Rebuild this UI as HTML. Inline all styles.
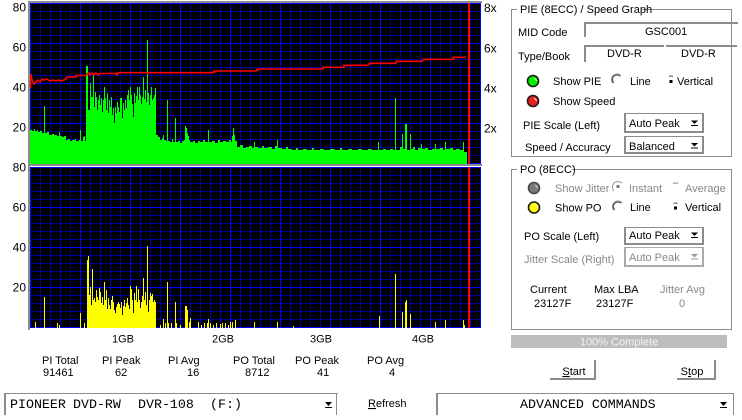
<!DOCTYPE html>
<html><head><meta charset="utf-8">
<style>
html,body{margin:0;padding:0;background:#fff;width:742px;height:420px;overflow:hidden}
svg{display:block}
text{font-family:"Liberation Sans",Arial,sans-serif;font-size:11px;fill:#000}
.g{fill:#888}
.ax{font-size:12px}
.m{font-family:"Liberation Mono",monospace;font-size:13.3px}
</style></head>
<body>
<svg width="742" height="420" viewBox="0 0 742 420" xmlns="http://www.w3.org/2000/svg">
<defs>
<pattern id="mnT" x="30" y="3" width="10" height="8" patternUnits="userSpaceOnUse"><rect width="10" height="8" fill="#000"/><rect width="1" height="8" fill="#000098"/><rect width="10" height="1" fill="#000098"/></pattern>
<pattern id="mjT" x="30" y="3" width="50" height="40" patternUnits="userSpaceOnUse"><rect width="1" height="40" fill="#0000ff"/><rect width="50" height="1" fill="#0000ff"/></pattern>
<pattern id="mnB" x="30" y="167" width="10" height="8" patternUnits="userSpaceOnUse"><rect width="10" height="8" fill="#000"/><rect width="1" height="8" fill="#000098"/><rect width="10" height="1" fill="#000098"/></pattern>
<pattern id="mjB" x="30" y="167" width="50" height="40" patternUnits="userSpaceOnUse"><rect width="1" height="40" fill="#0000ff"/><rect width="50" height="1" fill="#0000ff"/></pattern>
</defs>

<!-- frame -->
<g shape-rendering="crispEdges">
<rect x="28" y="1" width="454" height="2" fill="#8c8c8c"/>
<rect x="28" y="1" width="2" height="329" fill="#8c8c8c"/>
<rect x="28" y="164" width="454" height="2" fill="#8c8c8c"/>
<rect x="30" y="3" width="451" height="161" fill="url(#mnT)"/>
<rect x="30" y="3" width="451" height="161" fill="url(#mjT)"/>
<rect x="30" y="167" width="451" height="161" fill="url(#mnB)"/>
<rect x="30" y="167" width="451" height="161" fill="url(#mjB)"/>

<!-- PIE green -->
<path fill="#00ff00" d="M30 164 V130 H32 V131 H34 V129 H35 V131 H37 V130 H38 V132 H40 V131 H42 V133 H44 V106 H45 V133 H47 V132 H49 V135 H52 V134 H54 V135 H57 V136 H59 V132 H60 V136 H62 V137 H64 V136 H66 V140 H68 V139 H70 V141 H72 V140 H75 V139 H76 V141 H79 V140 H80 V130 H81 V141 H83 V137 H84 V136 H85 V141 H86 V66 H88 V110 H90 V83 H91 V97 H93 V75 H94 V107 H95 V92 H96 V97 H97 V110 H98 V100 H99 V95 H100 V105 H101 V98 H102 V112 H103 V100 H104 V87 H105 V98 H106 V110 H107 V93 H108 V113 H109 V100 H110 V107 H111 V97 H112 V115 H113 V108 H114 V123 H115 V107 H116 V113 H117 V102 H118 V107 H119 V112 H120 V98 H122 V118 H123 V103 H124 V110 H125 V100 H126 V108 H127 V95 H128 V90 H129 V100 H130 V87 H131 V95 H132 V104 H133 V117 H134 V93 H135 V103 H136 V96 H137 V87 H138 V100 H139 V87 H140 V95 H141 V104 H142 V97 H143 V77 H144 V99 H145 V90 H146 V102 H147 V40 H148 V93 H149 V105 H150 V95 H151 V87 H152 V100 H153 V98 H154 V95 H155 V88 H156 V135 H158 V137 H160 V140 H162 V138 H163 V135 H164 V140 H166 V141 H167 V100 H168 V141 H170 V142 H172 V139 H173 V142 H175 V118 H176 V142 H178 V141 H180 V143 H182 V141 H184 V140 H185 V126 H186 V128 H187 V133 H188 V136 H189 V140 H190 V142 H193 V141 H195 V143 H198 V141 H200 V142 H203 V140 H205 V142 H208 V130 H209 V142 H212 V141 H215 V143 H218 V140 H220 V142 H223 V141 H226 V142 H229 V140 H231 V142 H232 V136 H233 V128 H234 V135 H235 V141 H237 V147 H240 V145 H243 V148 H246 V147 H249 V146 H252 V148 H254 V142 H255 V147 H258 V148 H262 V146 H264 V148 H268 V147 H272 V149 H275 V146 H277 V140 H278 V148 H282 V149 H286 V147 H288 V149 H292 V150 H296 V148 H298 V150 H303 V149 H307 V150 H312 V148 H314 V150 H320 V149 H324 V150 H330 V149 H335 V150 H340 V148 H342 V150 H348 V149 H352 V150 H358 V149 H362 V150 H368 V149 H372 V150 H378 V142 H379 V150 H383 V149 H386 V150 H390 V149 H393 V150 H395 V98 H396 V150 H400 V147 H402 V134 H403 V149 H405 V124 H407 V150 H410 V134 H411 V149 H413 V147 H415 V150 H418 V148 H421 V144 H422 V149 H425 V148 H428 V150 H432 V149 H435 V144 H436 V149 H440 V148 H443 V150 H445 V142 H446 V149 H450 V148 H453 V150 H456 V149 H460 V150 H463 V142 H464 V152 H467 V164 Z"/>

<!-- PO yellow -->
<path fill="#ffff00" d="M87 328 V260 H88 V256 H89 V295 H90 V287 H91 V305 H92 V269 H93 V300 H94 V298 H95 V302 H96 V290 H97 V297 H98 V300 H99 V288 H100 V292 H101 V303 H102 V297 H103 V305 H104 V282 H105 V300 H106 V290 H107 V309 H108 V298 H109 V305 H110 V309 H111 V300 H112 V296 H113 V302 H114 V310 H115 V313 H116 V307 H117 V304 H118 V302 H119 V304 H120 V308 H121 V302 H122 V315 H123 V306 H124 V300 H125 V307 H126 V303 H127 V298 H128 V305 H129 V309 H130 V286 H131 V289 H132 V300 H133 V313 H134 V293 H135 V300 H136 V286 H137 V302 H138 V289 H139 V300 H140 V308 H141 V302 H142 V296 H143 V278 H144 V300 H145 V292 H146 V305 H147 V246 H148 V312 H149 V300 H150 V293 H151 V296 H152 V294 H153 V302 H154 V300 H155 V302 H156 V328 Z"/>
<path stroke="#ffff00" stroke-width="1" fill="none" d="M35.5 322V328M44.5 297V328M57.5 323V328M59.5 325V328M80.5 313V328M84.5 323V328M160.5 325V328M163.5 319V328M165.5 323V328M167.5 282V328M168.5 323V328M171.5 323V328M175.5 302V328M176.5 323V328M180.5 325V328M185.5 306V328M186.5 306V328M187.5 310V328M189.5 322V328M190.5 318V328M198.5 322V328M201.5 325V328M204.5 323V328M207.5 323V328M208.5 319V328M210.5 323V328M213.5 325V328M216.5 323V328M220.5 324V328M222.5 323V328M225.5 323V328M228.5 325V328M230.5 322V328M232.5 322V328M235.5 320V328M254.5 322V328M277.5 322V328M293.5 326V328M379.5 316V328M395.5 274V328M402.5 312V328M405.5 302V328M406.5 300V328M410.5 314V328M435.5 322V328M445.5 320V328M463.5 320V328M464.5 325V328"/>

<!-- red end markers -->
<rect x="468" y="3" width="2" height="161" fill="#ff0000"/>
<rect x="468" y="167" width="2" height="161" fill="#ff0000"/>
</g>

<!-- speed line -->
<path fill="none" stroke="#ff0000" stroke-width="1.6" stroke-linejoin="miter" d="M30.5 88 L30.8 74 L31.8 79 L33 82 L34 84 L36 82 L38 80 L40 82 L42 79 L44 80 L47 79 L50 81 L53 80 L56 81 L58 80 L61 81 L64 80 L66 79 L67 77 L76 77 L76 75.5 L86 75.5 L87 74 L89 73 L90 75 L92 73 L94 75 L96 73 L98 75 L100 73.5 L116 73.5 L117 75 L118 72.7 L213 72.7 L214 71 L215 72 L216 71 L256 71 L257 69.5 L258 70 L259 69 L323 69 L323 67.3 L344 67.3 L344 65.3 L368 65.3 L369 64 L370 63.3 L396 63.3 L396 61.3 L422 61.3 L423 60 L424 59.3 L453 59.3 L453 57.3 L466 57.3"/>

<!-- axis labels -->
<g class="ax" text-anchor="end">
<text class="ax" x="26" y="11.3">80</text>
<text class="ax" x="26" y="51.3">60</text>
<text class="ax" x="26" y="91.3">40</text>
<text class="ax" x="26" y="131.3">20</text>
<text class="ax" x="26" y="171.3">80</text>
<text class="ax" x="26" y="211.3">60</text>
<text class="ax" x="26" y="251.3">40</text>
<text class="ax" x="26" y="291.3">20</text>
</g>
<text class="ax" x="484" y="11.8">8x</text>
<text class="ax" x="484" y="52.3">6x</text>
<text class="ax" x="484" y="92.3">4x</text>
<text class="ax" x="484" y="132.3">2x</text>

<text x="112" y="342.5">1GB</text>
<text x="212" y="342.5">2GB</text>
<text x="310" y="342.5">3GB</text>
<text x="412" y="342.5">4GB</text>

<!-- stats -->
<text x="42" y="364">PI Total</text>
<text x="43" y="376">91461</text>
<text x="102" y="364">PI Peak</text>
<text x="115" y="376">62</text>
<text x="168" y="364">PI Avg</text>
<text x="187" y="376">16</text>
<text x="233" y="364">PO Total</text>
<text x="245" y="376">8712</text>
<text x="295" y="364">PO Peak</text>
<text x="317" y="376">41</text>
<text x="367" y="364">PO Avg</text>
<text x="389" y="376">4</text>

<!-- bottom combos -->
<g shape-rendering="crispEdges" fill="#8c8c8c">
<rect x="4" y="393" width="2" height="22"/>
<rect x="4" y="393" width="334" height="1"/>
<rect x="336" y="393" width="1" height="22"/>
<rect x="436" y="393" width="2" height="22"/>
<rect x="436" y="393" width="298" height="1"/>
<rect x="733" y="393" width="1" height="22"/>
</g>
<polygon points="325,402 332,402 328.5,406" fill="#000"/>
<rect x="325" y="407" width="7" height="1" fill="#000"/>
<polygon points="720,402 727,402 723.5,406" fill="#000"/>
<rect x="720" y="407" width="7" height="1" fill="#000"/>
<text class="m" x="10" y="408">PIONEER</text>
<text class="m" x="73" y="408">DVD-RW</text>
<text class="m" x="138" y="408">DVR-108</text>
<text class="m" x="210" y="408">(F:)</text>
<text class="m" x="520" y="408">ADVANCED COMMANDS</text>
<text x="368" y="407"><tspan text-decoration="underline">R</tspan>efresh</text>

<!-- buttons -->
<g shape-rendering="crispEdges" fill="#8c8c8c">
<rect x="594" y="360" width="2" height="20"/>
<rect x="550" y="378" width="46" height="2"/>
<rect x="714" y="360" width="2" height="20"/>
<rect x="677" y="378" width="39" height="2"/>
</g>
<text x="574" y="375" text-anchor="middle"><tspan text-decoration="underline">S</tspan>tart</text>
<text x="692" y="375" text-anchor="middle">S<tspan text-decoration="underline">t</tspan>op</text>

<!-- progress -->
<rect x="511" y="335" width="216" height="13" fill="#bdbdbd" shape-rendering="crispEdges"/>
<text x="619" y="345.5" text-anchor="middle" style="fill:#f4f4f4">100% Complete</text>

<!-- group box 1 -->
<rect x="511.5" y="9.5" width="220" height="147" fill="none" stroke="#8c8c8c" shape-rendering="crispEdges"/>
<rect x="517" y="3" width="125" height="12" fill="#fff"/>
<text x="520" y="13">PIE (8ECC) / Speed Graph</text>
<g shape-rendering="crispEdges" fill="#8c8c8c">
<rect x="584" y="22" width="154" height="2"/>
<rect x="584" y="22" width="2" height="15"/>
<rect x="584" y="45" width="80" height="2"/>
<rect x="584" y="45" width="2" height="17"/>
<rect x="666" y="45" width="71" height="2"/>
</g>
<text x="518" y="36">MID Code</text>
<text x="645" y="35">GSC001</text>
<text x="518" y="60">Type/Book</text>
<text x="607" y="57">DVD-R</text>
<text x="681" y="57">DVD-R</text>

<circle cx="533" cy="81" r="5.5" fill="#00f000" stroke="#1a1a1a" stroke-width="1.6"/>
<path d="M534 78.5 Q536 79 536.5 81" stroke="#fff" stroke-width="1" fill="none"/>
<text x="553" y="85">Show PIE</text>
<path d="M620.9 75.6 A5.5 5.5 0 0 0 613.1 83.4" stroke="#8c8c8c" fill="none"/>
<path d="M620.2 76.3 A4.5 4.5 0 0 0 613.8 82.7" stroke="#404040" fill="none"/>
<text x="630" y="85">Line</text>
<path d="M669 76.5 Q671 75.5 673 76.5" stroke="#555" fill="none"/>
<rect x="669.5" y="80" width="3" height="3" fill="#000"/>
<text x="677" y="85">Vertical</text>

<circle cx="533" cy="101" r="5.5" fill="#e82020" stroke="#1a1a1a" stroke-width="1.6"/>
<path d="M534 98.5 Q536 99 536.5 101" stroke="#fff" stroke-width="1" fill="none"/>
<text x="553" y="105">Show Speed</text>

<text x="523" y="129">PIE Scale (Left)</text>
<g shape-rendering="crispEdges" fill="#8c8c8c">
<rect x="624" y="113" width="2" height="20"/>
<rect x="624" y="113" width="80" height="1"/>
<rect x="702" y="113" width="2" height="20"/>
<rect x="624" y="131" width="80" height="2"/>
<rect x="624" y="136" width="2" height="18"/>
<rect x="624" y="136" width="80" height="1"/>
<rect x="702" y="136" width="2" height="18"/>
<rect x="624" y="152" width="80" height="2"/>
</g>
<text x="629" y="127">Auto Peak</text>
<polygon points="691,120.5 698,120.5 694.5,124" fill="#000"/>
<rect x="691" y="125" width="7" height="1" fill="#000"/>
<text x="525" y="151">Speed / Accuracy</text>
<text x="629" y="150">Balanced</text>
<polygon points="691,143 698,143 694.5,146.5" fill="#000"/>
<rect x="691" y="147.5" width="7" height="1" fill="#000"/>

<!-- group box 2 -->
<rect x="511.5" y="169.5" width="220" height="160" fill="none" stroke="#8c8c8c" shape-rendering="crispEdges"/>
<rect x="517" y="163" width="55" height="12" fill="#fff"/>
<text x="520" y="173">PO (8ECC)</text>

<circle cx="534" cy="188" r="5.5" fill="#7a7a7a" stroke="#4a4a4a" stroke-width="1.6"/>
<path d="M535 185.5 Q537 186 537.5 188" stroke="#ddd" stroke-width="1" fill="none"/>
<text class="g" x="555" y="192">Show Jitter</text>
<path d="M621.9 183.1 A5.5 5.5 0 0 0 614.1 190.9" stroke="#9a9a9a" fill="none"/>
<rect x="616.5" y="185" width="3" height="3" fill="#777"/>
<text class="g" x="629" y="192">Instant</text>
<path d="M673 183.5 Q675.5 182.5 678 183.5" stroke="#888" fill="none"/>
<text class="g" x="685" y="192">Average</text>

<circle cx="534" cy="207.5" r="5.5" fill="#ffff00" stroke="#1a1a1a" stroke-width="1.6"/>
<path d="M535 205 Q537 205.5 537.5 207.5" stroke="#fff" stroke-width="1" fill="none"/>
<text x="555" y="211.5">Show PO</text>
<path d="M621.9 202.6 A5.5 5.5 0 0 0 614.1 210.4" stroke="#8c8c8c" fill="none"/>
<path d="M621.2 203.3 A4.5 4.5 0 0 0 614.8 209.7" stroke="#404040" fill="none"/>
<text x="630" y="211">Line</text>
<path d="M673.5 203.5 Q675.5 202.5 677.5 203.5" stroke="#555" fill="none"/>
<rect x="674" y="206.5" width="3" height="3" fill="#000"/>
<text x="685" y="211">Vertical</text>

<text x="524" y="240">PO Scale (Left)</text>
<g shape-rendering="crispEdges">
<rect x="624" y="227" width="2" height="18" fill="#8c8c8c"/>
<rect x="624" y="227" width="80" height="1" fill="#8c8c8c"/>
<rect x="702" y="227" width="2" height="18" fill="#8c8c8c"/>
<rect x="624" y="243" width="80" height="2" fill="#8c8c8c"/>
<rect x="624" y="247" width="2" height="20" fill="#aaa"/>
<rect x="624" y="247" width="80" height="1" fill="#aaa"/>
<rect x="702" y="247" width="2" height="20" fill="#aaa"/>
<rect x="624" y="265" width="80" height="2" fill="#aaa"/>
</g>
<text x="629" y="239">Auto Peak</text>
<polygon points="691,232.5 698,232.5 694.5,236" fill="#000"/>
<rect x="691" y="237" width="7" height="1" fill="#000"/>
<text class="g" x="524" y="263">Jitter Scale (Right)</text>
<text class="g" x="629" y="261">Auto Peak</text>
<polygon points="691,254 698,254 694.5,257.5" fill="#999"/>
<rect x="691" y="258.5" width="7" height="1" fill="#999"/>

<text x="530" y="293">Current</text>
<text x="594" y="293">Max LBA</text>
<text class="g" x="660" y="293">Jitter Avg</text>
<text x="534" y="307">23127F</text>
<text x="596" y="307">23127F</text>
<text class="g" x="679" y="307">0</text>
</svg>
</body></html>
